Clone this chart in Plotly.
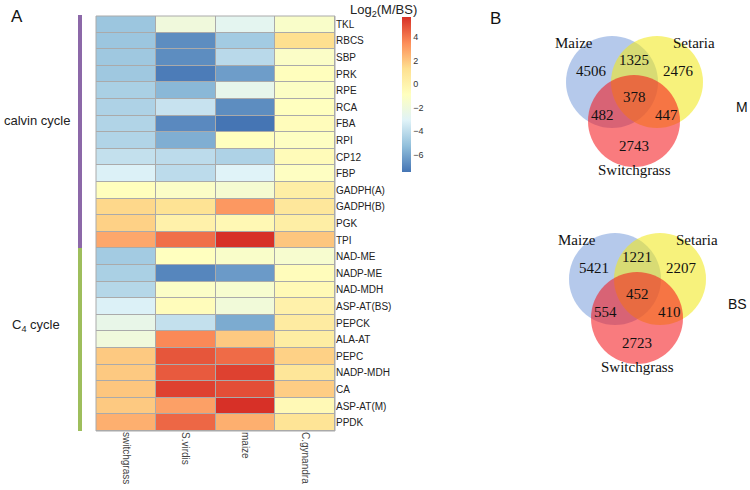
import plotly.graph_objects as go

W, H = 750, 490

genes = ["TKL", "RBCS", "SBP", "PRK", "RPE", "RCA", "FBA", "RPI", "CP12", "FBP",
         "GADPH(A)", "GADPH(B)", "PGK", "TPI",
         "NAD-ME", "NADP-ME", "NAD-MDH", "ASP-AT(BS)", "PEPCK", "ALA-AT", "PEPC",
         "NADP-MDH", "CA", "ASP-AT(M)", "PPDK"]
species = ["switchgrass", "S.virdis", "maize", "C.gynandra"]

switchgrass = [-5.0, -5.0, -4.9, -4.9, -4.6, -4.5, -4.4, -4.4, -3.9, -3.2,
               -0.8, 1.5, 1.7, 2.8,
               -4.8, -4.6, -4.3, -3.2, -2.5, -2.0, 1.9, 1.9, 2.0, 1.9, 2.6]
s_viridis = [-2.0, -6.8, -6.8, -7.3, -5.5, -3.8, -6.9, -5.8, -4.1, -4.1,
             -1.2, 1.1, 0.1, 4.2,
             -0.9, -7.0, -1.2, -0.7, -3.9, 3.6, 4.8, 4.7, 5.3, 3.0, 4.4]
maize = [-2.8, -4.8, -4.2, -6.3, -2.6, -6.8, -7.5, -0.9, -4.5, -3.1,
         -1.6, 3.2, -0.4, 5.7,
         -1.3, -6.4, -1.5, -1.9, -5.9, 1.9, 4.3, 5.3, 5.0, 5.7, 2.6]
c_gynandra = [-1.3, 1.3, -1.2, -0.8, -1.1, -0.9, -0.7, -1.0, -0.6, -1.0,
              0.3, 0.8, 0.3, 2.0,
              -1.5, -0.7, -0.5, 0.1, 0.5, 0.4, 1.7, 0.9, 1.8, -0.5, 1.0]
cbar_ticks = [4, 2, 0, -2, -4, -6]

venn_sets = ["Maize", "Setaria", "Switchgrass"]
# region order: maize only, maize&setaria, setaria only, all, maize&switch, setaria&switch, switch only
venn_M = [4506, 1325, 2476, 378, 482, 447, 2743]
venn_BS = [5421, 1221, 2207, 452, 554, 410, 2723]

z = [[switchgrass[i], s_viridis[i], maize[i], c_gynandra[i]] for i in range(len(genes))]

colorscale = [[0, "#4575B4"], [1/6, "#91BFDB"], [2/6, "#E0F3F8"], [0.5, "#FFFFBF"],
              [4/6, "#FEE090"], [5/6, "#FC8D59"], [1, "#D73027"]]

def px(x):
    return x / W

def py(y):
    return 1 - y / H

fig = go.Figure()
fig.add_trace(go.Heatmap(
    z=z, x=species, y=genes, colorscale=colorscale, zmin=-7.5, zmax=5.7,
    xgap=1, ygap=1,
    colorbar=dict(x=px(402), xanchor="left", y=py(17), yanchor="top",
                  len=155 / H, lenmode="fraction", thickness=9, outlinewidth=0,
                  tickvals=cbar_ticks, ticks="", tickfont=dict(size=9, color="#333"),
                  xpad=0, ypad=0),
))

fig.update_layout(
    width=W, height=H, margin=dict(l=0, r=0, t=0, b=0, autoexpand=False),
    paper_bgcolor="white", plot_bgcolor="#AAAAAA",
    font=dict(family="Liberation Sans, Arial", color="#222"),
    xaxis=dict(domain=[px(96), px(335)], side="bottom", tickangle=90, ticks="",
               automargin=False,
               tickfont=dict(size=10, color="#444"), showgrid=False, zeroline=False),
    yaxis=dict(domain=[py(431), py(16)], side="right", autorange="reversed", ticks="",
               automargin=False,
               tickfont=dict(size=10, color="#222"), showgrid=False, zeroline=False),
)

shapes = []
shapes.append(dict(type="rect", xref="x domain", yref="y domain", x0=0, x1=1, y0=0, y1=1,
                   line=dict(color="#AAAAAA", width=1)))
# group bars
shapes.append(dict(type="rect", xref="paper", yref="paper", x0=px(78), x1=px(82),
                   y0=py(248), y1=py(15), fillcolor="#8C68A8", line=dict(width=0)))
shapes.append(dict(type="rect", xref="paper", yref="paper", x0=px(78), x1=px(82),
                   y0=py(431), y1=py(248), fillcolor="#9EBE5C", line=dict(width=0)))

annotations = []
def ann(text, x, y, size, family="Liberation Sans, Arial", color="#222", xanchor="center"):
    annotations.append(dict(text=text, x=px(x), y=py(y), xref="paper", yref="paper",
                            showarrow=False, font=dict(size=size, family=family, color=color),
                            xanchor=xanchor, yanchor="middle"))

ann("A", 17, 17, 17, color="#111")
ann("B", 495, 18, 17, color="#111")
ann("calvin cycle", 37, 121, 13)
ann("C<sub>4</sub> cycle", 36, 325, 13)
ann("Log<sub>2</sub>(M/BS)", 383, 10, 13)

# Venn diagrams
r = 46
circle_cols = ["rgba(90,135,210,0.45)", "rgba(242,232,30,0.58)", "rgba(245,20,25,0.56)"]
serif = "Liberation Serif, Times New Roman"

def venn(cx, cy, counts, tag, tag_x):
    centers = [(cx - 22, cy), (cx + 23, cy), (cx, cy + 39)]
    for (x, y), c in zip(centers, circle_cols):
        shapes.append(dict(type="circle", xref="paper", yref="paper",
                           x0=px(x - r), x1=px(x + r), y0=py(y + r), y1=py(y - r),
                           fillcolor=c, line=dict(width=0), layer="below"))
    ann(venn_sets[0], cx - 60, cy - 39, 15, family=serif, color="#111")
    ann(venn_sets[1], cx + 60, cy - 39, 15, family=serif, color="#111")
    ann(venn_sets[2], cx, cy + 88, 15, family=serif, color="#111")
    pos = [(cx - 43, cy - 11), (cx, cy - 22), (cx + 44, cy - 11), (cx, cy + 15),
           (cx - 32, cy + 33), (cx + 32, cy + 33), (cx, cy + 64)]
    for (x, y), n in zip(pos, counts):
        ann(str(n), x, y, 15, family=serif, color="#111")
    annotations.append(dict(text=tag, x=px(tag_x), y=py(cy + 25), xref="paper", yref="paper",
                            showarrow=False, font=dict(size=14, color="#111"),
                            xanchor="right", yanchor="middle"))

venn(634, 82, venn_M, "M", 750)
venn(637, 279, venn_BS, "BS", 749)

fig.update_layout(shapes=shapes, annotations=annotations)
fig.write_html("out.html", config={"displayModeBar": False},
               post_script="document.body.style.margin='0px';")
